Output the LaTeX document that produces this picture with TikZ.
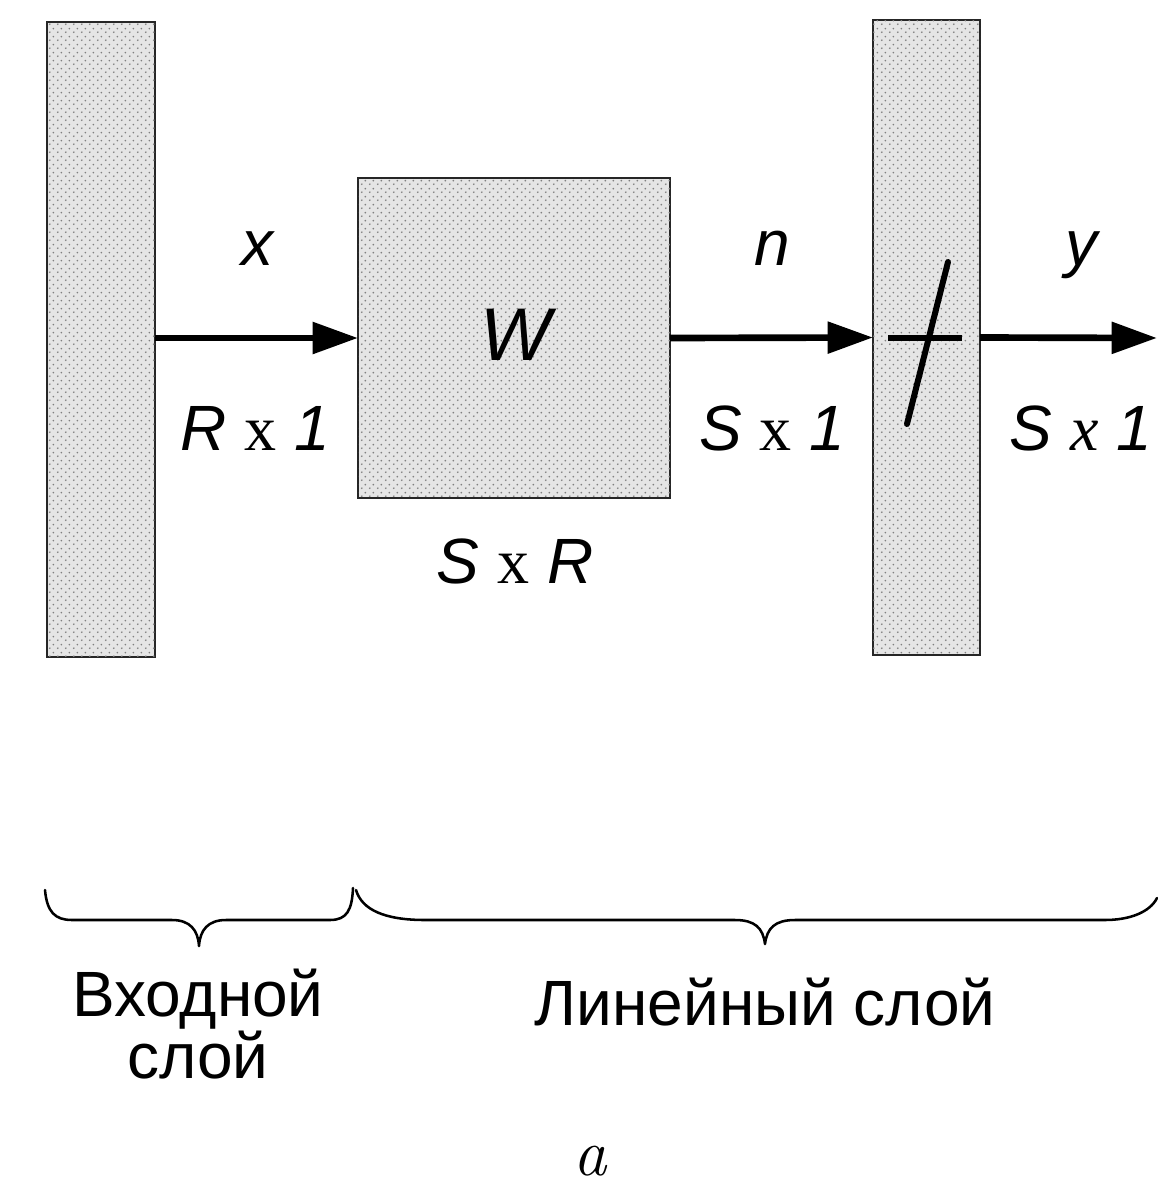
\documentclass[tikz,border=0pt]{standalone}
\usepackage{fontspec}
\setmainfont{Liberation Sans}
\newfontfamily\tnr{Liberation Serif}
\newfontfamily\lmr{Latin Modern Roman}
\usetikzlibrary{arrows.meta,patterns.meta}
\tikzdeclarepattern{name=mydots, type=uncolored,
  bounding box={(0pt,0pt) and (6pt,6pt)}, tile size={(6pt,6pt)},
  code={\fill (1.5pt,1.5pt) circle (0.8pt); \fill (4.5pt,4.5pt) circle (0.8pt);}}
\begin{document}
\begin{tikzpicture}[x=0.75pt,y=-0.75pt,
  layerbox/.style={draw=black!85, line width=1.4pt, fill=black!10, outer sep=0pt, inner sep=0pt,
    postaction={pattern=mydots, pattern color=black!50}},
  arr/.style={line width=5pt, -{Triangle[length=34pt,width=23pt]}},
  lbl/.style={font=\fontsize{48}{56}\selectfont\itshape, anchor=base, inner sep=0pt},
  txt/.style={font=\fontsize{48}{40}\selectfont\upshape, anchor=base, inner sep=0pt, align=center},
  bracepath/.style={line width=1.9pt, line cap=round, line join=round}]
\useasboundingbox (0,0) rectangle (1157,1202);
% blocks
\node[layerbox, minimum width=81pt, minimum height=476pt] (inl) at (101,339.5) {};
\node[layerbox, minimum width=234pt, minimum height=240pt] (wbox) at (514,338) {};
\node[layerbox, minimum width=80.25pt, minimum height=476pt] (outl) at (926.5,337.5) {};
\node[lbl, font=\fontsize{56}{60}\selectfont\itshape] (wlab) at (516,360) {W};
% transfer function mark
\draw[line width=5pt] (888,338) -- (962,338);
\draw[line width=4.5pt, line cap=round] (948,262) -- (907,424);
% arrows
\coordinate (yend) at (1157,338);
\draw[arr] (inl.east |- wbox.west) -- (wbox.west);
\draw[arr] (wbox.east) -- (outl.west);
\draw[arr] (outl.east) -- (yend);
% labels
\node[lbl] (xlab) at (257,265) {x};
\node[lbl] (nlab) at (772,265) {n};
\node[lbl] (ylab) at (1081,265) {y};
\node[lbl] (rx1) at (255,450) {R {\upshape\tnr x} 1};
\node[lbl] (sx1a) at (772,450) {S {\upshape\tnr x} 1};
\node[lbl] (sx1b) at (1081,450) {S {\tnr x} 1};
\node[lbl] (sxr) at (515,583) {S {\upshape\tnr x} R};
% braces
\draw[bracepath] (45,890) .. controls (47,912) and (55,920) .. (72,920) -- (172,920)
  .. controls (190,920) and (198,930) .. (199,946)
  .. controls (200,930) and (208,920) .. (226,920) -- (330,920)
  .. controls (347,920) and (352,910) .. (353,888);
\draw[bracepath] (356,890) .. controls (362,910) and (385,920) .. (425,920) -- (735,920)
  .. controls (755,920) and (763,928) .. (765,944)
  .. controls (767,928) and (775,920) .. (795,920) -- (1105,920)
  .. controls (1130,920) and (1150,912) .. (1157,898);
% captions
\node[txt] (inlab) at (198,1078) {Входной\\слой};
\node[txt] (linlab) at (765,1025) {Линейный слой};
\node[anchor=base, inner sep=0pt, font=\fontsize{50}{56}\selectfont\lmr\itshape] (alab) at (590,1175) {a};
\end{tikzpicture}
\end{document}
